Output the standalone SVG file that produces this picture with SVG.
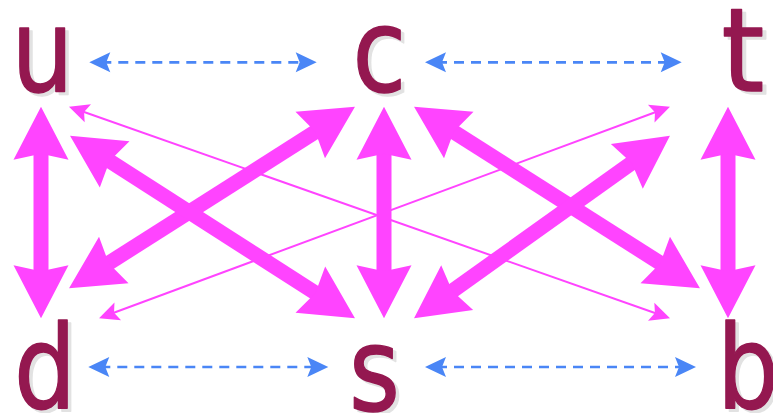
<svg xmlns="http://www.w3.org/2000/svg" width="773" height="413" viewBox="0 0 773 413">
<defs>
<style>
.lbl{font-family:"DejaVu Sans",sans-serif;font-size:115px;text-anchor:middle;fill:#941850;stroke:#941850;stroke-width:1.5;stroke-linejoin:round}
.sh{font-family:"DejaVu Sans",sans-serif;font-size:115px;text-anchor:middle;fill:#e2e2e2;stroke:#e2e2e2;stroke-width:1.5;stroke-linejoin:round}
.thick{stroke:#ff44ff;stroke-width:15;fill:none;marker-start:url(#hb);marker-end:url(#hb)}
.thin{stroke:#ff44ff;stroke-width:2;fill:none;marker-start:url(#hs);marker-end:url(#hs)}
.dash{stroke:#4a86f6;stroke-width:2.7;fill:none;stroke-dasharray:10 7;marker-start:url(#hd);marker-end:url(#hd)}
</style>
<marker id="hb" markerUnits="userSpaceOnUse" viewBox="-56 -30 60 60" markerWidth="60" markerHeight="60" refX="-40" refY="0" orient="auto-start-reverse">
<path d="M0,0 L-53,-27.5 L-47,0 L-53,27.5 Z" fill="#ff44ff"/>
</marker>
<marker id="hs" markerUnits="userSpaceOnUse" viewBox="-24 -12 26 24" markerWidth="26" markerHeight="24" refX="-10" refY="0" orient="auto-start-reverse">
<path d="M0,0 L-20,-9.5 L-16,0 L-20,9.5 Z" fill="#ff44ff"/>
</marker>
<marker id="hd" markerUnits="userSpaceOnUse" viewBox="-24 -12 26 24" markerWidth="26" markerHeight="24" refX="-12" refY="0" orient="auto-start-reverse">
<path d="M0,0 L-21,-10 L-17,0 L-21,10 Z" fill="#4a86f6"/>
</marker>
</defs>
<g id="connectors">
<line class="dash" x1="101.3" y1="62.3" x2="304.7" y2="62.3"/>
<line class="dash" x1="437" y1="62.3" x2="669.7" y2="62.3"/>
<line class="dash" x1="100.3" y1="367" x2="316.3" y2="367"/>
<line class="dash" x1="437" y1="367" x2="684" y2="367"/>
<line class="thin" x1="78.4" y1="110" x2="660.6" y2="315"/>
<line class="thin" x1="660.6" y1="110.2" x2="108.4" y2="314.8"/>
<line class="thick" x1="41" y1="146.7" x2="41" y2="278.3"/>
<line class="thick" x1="384" y1="146.7" x2="384" y2="278.3"/>
<line class="thick" x1="728" y1="146.7" x2="728" y2="278.3"/>
<line class="thick" x1="102.8" y1="266.9" x2="321.2" y2="128.1"/>
<line class="thick" x1="103.7" y1="157.3" x2="321.3" y2="296.7"/>
<line class="thick" x1="447.8" y1="128.1" x2="666.2" y2="266.9"/>
<line class="thick" x1="637.4" y1="158.9" x2="446.6" y2="295.1"/>
</g>
<g id="u" transform="translate(42.5,91) scale(0.85,1)"><text class="sh" x="4" y="3">u</text><text class="lbl" x="0" y="0">u</text></g>
<g id="c" transform="translate(379.5,91) scale(0.85,1)"><text class="sh" x="4" y="3">c</text><text class="lbl" x="0" y="0">c</text></g>
<g id="t" transform="translate(743,91) scale(0.95,1)"><text class="sh" x="4" y="3">t</text><text class="lbl" x="0" y="0">t</text></g>
<g id="d" transform="translate(45,408) scale(0.85,1)"><text class="sh" x="4" y="3">d</text><text class="lbl" x="0" y="0">d</text></g>
<g id="s" transform="translate(374.5,410) scale(0.85,1)"><text class="sh" x="4" y="3">s</text><text class="lbl" x="0" y="0">s</text></g>
<g id="b" transform="translate(748,408) scale(0.85,1)"><text class="sh" x="4" y="3">b</text><text class="lbl" x="0" y="0">b</text></g>
</svg>
